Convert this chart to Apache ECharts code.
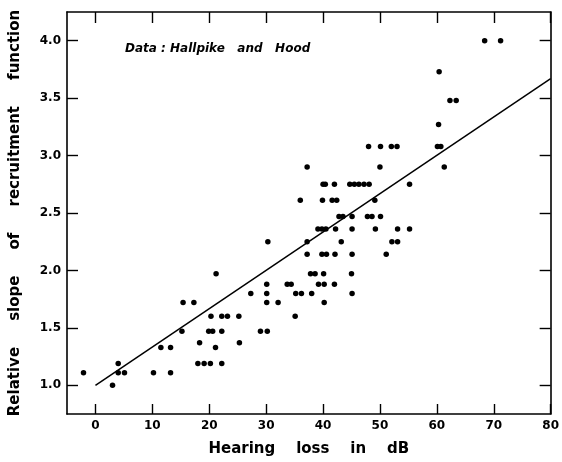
<!DOCTYPE html>
<html>
<head>
<meta charset="utf-8">
<script src="https://cdn.jsdelivr.net/npm/echarts@6/dist/echarts.min.js"></script>
<style>
  html, body { margin: 0; padding: 0; background: #fff; }
  #chart { width: 562px; height: 462px; }
</style>
</head>
<body>
<div id="chart"></div>
<script>
// Hearing loss (dB) and relative slope of the recruitment function, grouped by slope level
const slopeLevels = [4.00, 3.73, 3.48, 3.27, 3.08, 2.90, 2.75, 2.61, 2.47, 2.36, 2.25, 2.14, 1.97, 1.88, 1.80, 1.72, 1.60, 1.47, 1.37, 1.33, 1.19, 1.11, 1.00];
const hearingLossByLevel = [
  [68.4, 71.2],
  [60.4],
  [62.3, 63.4],
  [60.3],
  [48.0, 50.1, 52.0, 53.0, 60.1, 60.7],
  [37.2, 50.0, 61.3],
  [40.0, 40.4, 42.0, 44.7, 45.5, 46.3, 47.2, 48.1, 55.2],
  [36.0, 39.9, 41.6, 42.4, 49.1],
  [42.8, 43.5, 45.1, 47.8, 48.6, 50.1],
  [39.1, 39.8, 40.5, 42.2, 45.1, 49.2, 53.1, 55.2],
  [30.3, 37.2, 43.2, 52.1, 53.1],
  [37.2, 39.8, 40.6, 42.1, 45.1, 51.1],
  [21.2, 37.8, 38.6, 40.1, 45.0],
  [30.1, 33.7, 34.4, 39.2, 40.2, 42.0],
  [27.3, 30.1, 35.2, 36.2, 38.0, 45.1],
  [15.4, 17.3, 30.1, 32.1, 40.2],
  [20.3, 22.2, 23.2, 25.2, 35.1],
  [15.2, 19.9, 20.6, 22.2, 29.0, 30.2],
  [18.3, 25.3],
  [11.5, 13.2, 21.1],
  [4.0, 18.0, 19.1, 20.2, 22.2],
  [-2.1, 4.0, 5.1, 10.2, 13.2],
  [3.0]
];

// Fitted regression line end points
const fitX = [0, 80];
const fitY = [1.0, 3.67];

// Tick labels
const xTicks = [0, 10, 20, 30, 40, 50, 60, 70, 80];
const yTicks = [1.0, 1.5, 2.0, 2.5, 3.0, 3.5, 4.0];

const points = [];
slopeLevels.forEach((y, i) => {
  hearingLossByLevel[i].forEach(x => points.push([x, y]));
});
const fitLine = fitX.map((x, i) => [x, fitY[i]]);

const font = '"DejaVu Sans", sans-serif';
const ink = '#000';

const chart = echarts.init(document.getElementById('chart'), null, { renderer: 'canvas' });

function frameAxis(extra) {
  return Object.assign({
    type: 'value',
    axisLine: { show: true, onZero: false, lineStyle: { color: ink, width: 1.6 } },
    splitLine: { show: false }
  }, extra);
}

chart.setOption({
  backgroundColor: '#fff',
  animation: false,
  grid: { left: 64, right: 10, top: 12, bottom: 46, containLabel: false },
  xAxis: [
    frameAxis({
      position: 'bottom', min: -5, max: 80,
      name: 'Hearing    loss    in    dB',
      nameLocation: 'middle', nameGap: 28,
      nameTextStyle: { fontFamily: font, fontSize: 15, fontWeight: 'bold', color: ink },
      axisTick: { show: true, inside: true, length: 10, customValues: xTicks, lineStyle: { color: ink, width: 1.4 } },
      axisLabel: { show: true, margin: 6, customValues: xTicks, fontFamily: font, fontSize: 12, fontWeight: 'bold', color: ink }
    }),
    frameAxis({
      position: 'top', min: -5, max: 80,
      axisTick: { show: true, inside: true, length: 11, customValues: xTicks, lineStyle: { color: ink, width: 1.4 } },
      axisLabel: { show: false }
    })
  ],
  yAxis: [
    frameAxis({
      position: 'left', min: 0.75, max: 4.25,
      name: 'Relative     slope     of     recruitment     function',
      nameLocation: 'middle', nameGap: 44, nameRotate: 90,
      nameTextStyle: { fontFamily: font, fontSize: 15, fontWeight: 'bold', color: ink },
      axisTick: { show: true, inside: true, length: 11, customValues: yTicks, lineStyle: { color: ink, width: 1.4 } },
      axisLabel: {
        show: true, margin: 6, customValues: yTicks,
        fontFamily: font, fontSize: 12, fontWeight: 'bold', color: ink,
        formatter: v => Number(v).toFixed(1)
      }
    }),
    frameAxis({
      position: 'right', min: 0.75, max: 4.25,
      axisTick: { show: true, inside: true, length: 11, customValues: yTicks, lineStyle: { color: ink, width: 1.4 } },
      axisLabel: { show: false }
    })
  ],
  graphic: [{
    type: 'text',
    left: 125, top: 43,
    style: {
      text: 'Data : Hallpike   and   Hood',
      font: 'italic bold 12px ' + font,
      fill: ink
    }
  }],
  series: [
    {
      type: 'scatter',
      data: points,
      symbol: 'circle',
      symbolSize: 5.5,
      itemStyle: { color: ink, opacity: 1 },
      z: 3
    },
    {
      type: 'line',
      data: fitLine,
      symbol: 'none',
      lineStyle: { color: ink, width: 1.5 },
      z: 2
    }
  ]
});
</script>
</body>
</html>
